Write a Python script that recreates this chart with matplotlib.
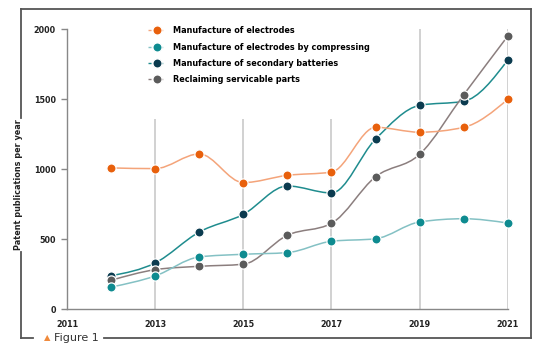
import numpy as np
import matplotlib.pyplot as plt
from matplotlib.path import Path
from matplotlib.patches import PathPatch
from matplotlib.lines import Line2D

years = [2012, 2013, 2014, 2015, 2016, 2017, 2018, 2019, 2020, 2021]
electrodes = [1010, 1005, 1110, 905, 957, 980, 1300, 1265, 1300, 1500]
compressing = [159, 238, 374, 393, 405, 486, 504, 624, 647, 616]
batteries = [240, 331, 552, 678, 881, 831, 1216, 1457, 1486, 1781]
reclaiming = [207, 283, 307, 322, 529, 614, 947, 1107, 1533, 1952]

labels = ['Manufacture of electrodes', 'Manufacture of electrodes by compressing',
          'Manufacture of secondary batteries', 'Reclaiming servicable parts']
dot_colors = ['#E8600C', '#0E8B90', '#0B3B4F', '#5B5B5B']
line_colors = ['#F4A47A', '#84C1C4', '#1F8C8E', '#8B7E7E']
z = [5, 4, 2, 3]

xticks = [2011, 2013, 2015, 2017, 2019, 2021]
yticks = [0, 500, 1000, 1500, 2000]
grid_years = [2013, 2015, 2017, 2019, 2021]
grid_tops = [1360, 1360, 1360, 2000, 2000]


def monotone_path(x, y):
    # smooth curve like d3 curveMonotoneX
    x = np.asarray(x, float)
    y = np.asarray(y, float)
    n = len(x)
    s = np.diff(y) / np.diff(x)
    t = np.zeros(n)
    for i in range(1, n - 1):
        h0, h1 = x[i] - x[i - 1], x[i + 1] - x[i]
        p = (s[i - 1] * h1 + s[i] * h0) / (h0 + h1)
        t[i] = (np.sign(s[i - 1]) + np.sign(s[i])) * min(abs(s[i - 1]), abs(s[i]), 0.5 * abs(p))
    t[0] = (3 * s[0] - t[1]) / 2
    t[-1] = (3 * s[-1] - t[-2]) / 2
    verts = [(x[0], y[0])]
    codes = [Path.MOVETO]
    for i in range(n - 1):
        dx = (x[i + 1] - x[i]) / 3
        verts += [(x[i] + dx, y[i] + dx * t[i]), (x[i + 1] - dx, y[i + 1] - dx * t[i + 1]), (x[i + 1], y[i + 1])]
        codes += [Path.CURVE4] * 3
    return Path(verts, codes)


plt.rcParams['font.family'] = ['DejaVu Sans']
fig = plt.figure(figsize=(5.5, 3.51), dpi=100)
ax = fig.add_axes([0.1218, 0.1188, 0.8015, 0.7977])

ax.vlines(grid_years, 0, grid_tops, color='#C9C9C9', lw=1.2, zorder=1)

series = [electrodes, compressing, batteries, reclaiming]
for vals, dc, lc, zz in zip(series, dot_colors, line_colors, z):
    ax.add_patch(PathPatch(monotone_path(years, vals), fill=False, ec=lc, lw=1.1, zorder=zz))
    ax.plot(years, vals, 'o', ms=6.6, mfc=dc, mec='white', mew=0.9, clip_on=False, zorder=zz + 0.5)

ax.set_xlim(2011, 2021)
ax.set_ylim(0, 2000)
ax.set_xticks(xticks)
ax.set_yticks(yticks)
ax.tick_params(axis='x', length=0, pad=8, labelsize=5.8, colors='#222222')
ax.tick_params(axis='y', length=4, width=1, color='#888888', pad=4, labelsize=5.8, labelcolor='#222222')
for lab in ax.get_xticklabels() + ax.get_yticklabels():
    lab.set_fontweight('bold')
for side in ['top', 'right']:
    ax.spines[side].set_visible(False)
for side in ['left', 'bottom']:
    ax.spines[side].set_color('#888888')
    ax.spines[side].set_linewidth(1)

handles = [Line2D([], [], color=lc, ls=(0, (2.2, 2)), lw=1, marker='o', ms=6.6, mfc=dc, mec='white', mew=0.9)
           for dc, lc in zip(dot_colors, line_colors)]
fig.legend(handles, labels, loc='upper left', bbox_to_anchor=(0.262, 0.937), frameon=False,
           prop={'size': 5.9, 'weight': 'bold'}, handlelength=2.1, handletextpad=0.9,
           labelspacing=0.9, borderpad=0)

fig.text(0.0345, 0.473, 'Patent publications per year', rotation=90, ha='center', va='center',
         fontsize=5.9, fontweight='bold', color='#222222')

# outer frame with gaps for label and caption
fc = '#555555'
L, R, T, B = 0.0376, 0.9655, 0.9735, 0.037
frame = [([L, R], [T, T]), ([R, R], [T, B]), ([0.189, R], [B, B]),
         ([L, 0.06], [B, B]), ([L, L], [T, 1 - 118 / 351]), ([L, L], [1 - 252 / 351, B])]
for xs, ys in frame:
    fig.add_artist(Line2D(xs, ys, color=fc, lw=1.3, transform=fig.transFigure))

fig.text(0.0855, B, '\u25b2', color='#F08A3C', fontsize=6, ha='center', va='center')
fig.text(0.098, B, 'Figure 1', color='#333333', fontsize=8, ha='left', va='center')

fig.savefig('out.png', dpi=100, facecolor='white')
